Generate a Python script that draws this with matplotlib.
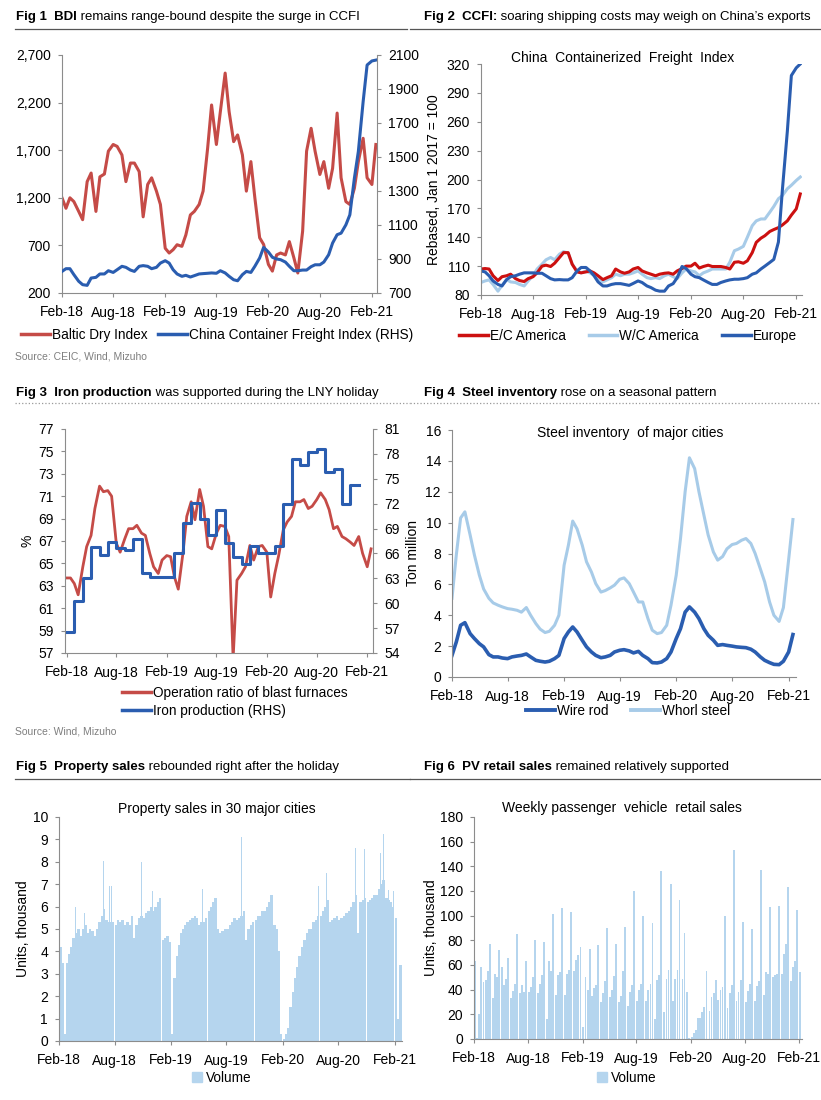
import matplotlib
matplotlib.use('Agg')
import matplotlib.pyplot as plt
import matplotlib.dates as mdates
from matplotlib.lines import Line2D
from matplotlib.patches import Patch
from datetime import datetime, timedelta

plt.rcParams['font.family'] = ['Liberation Sans', 'DejaVu Sans']

W, H = 821, 1100

# ---- data (semi-monthly unless noted) ----
bdi = [1200, 1090, 1200, 1160, 1057, 970, 1370, 1460, 1057, 1420, 1450, 1690, 1760, 1740, 1650, 1370, 1565, 1565, 1475, 1000, 1340, 1410,
       1270, 1130, 670, 620, 655, 707, 690, 810, 1020, 1057, 1130, 1270, 1720, 2175, 1760, 2105, 2510, 2105, 1790, 1860, 1650, 1270, 1580, 1200,
       780, 710, 500, 430, 600, 620, 600, 740, 570, 410, 850, 1690, 1930, 1690, 1445, 1580, 1300, 1510, 2090, 1410, 1160, 1130, 1300, 1580,
       1825, 1410, 1340, 1760]
ccfi = [827, 843, 843, 808, 769, 749, 745, 788, 792, 812, 812, 831, 821, 837, 857, 851, 835, 827, 857, 861, 857, 843,
        851, 876, 890, 876, 837, 812, 798, 804, 794, 802, 812, 814, 816, 818, 816, 831, 818, 798, 778, 772, 808, 827, 821, 857,
        906, 968, 941, 910, 900, 896, 882, 857, 831, 831, 835, 835, 855, 866, 866, 882, 925, 994, 1043, 1052, 1101, 1160, 1375, 1532,
        1826, 2041, 2065, 2070]

ec_america = [107, 107.5, 107, 100, 95, 99, 100, 101.6, 97, 95, 94, 97, 99, 103, 110, 111, 109.6, 113, 119, 124, 124, 112,
              104, 103, 104, 105, 103, 100, 96, 98, 100, 107, 104, 102.6, 104, 107, 108.6, 105, 103, 101.6, 100, 101.6, 102.6, 103, 101.6, 105,
              107.5, 110, 110, 113, 108, 109.6, 111, 109.6, 109.6, 109.6, 108.6, 107, 114, 114.5, 113, 115.5, 124, 134.7, 139, 141.6, 146, 148, 150, 152.8,
              157, 163, 169.5, 185]
wc_america = [93, 94.6, 95.7, 91, 84, 90, 96, 93.6, 93, 91, 89.4, 94.6, 100, 107, 112, 116.6, 119, 116.6, 122.5, 125, 123.5, 112,
              105, 103, 105, 103, 100.5, 98, 93.6, 95.7, 98, 101.6, 100, 101.6, 101.6, 103, 105, 101.6, 98, 97, 98, 97, 100, 101.6, 99, 97,
              103, 107, 105, 104, 100, 103, 105, 107, 107, 107, 107, 114, 126, 127.7, 130.5, 140, 152, 157, 159, 159, 166, 172, 180, 183.4,
              190.4, 194, 199, 202.6]
europe = [105, 104, 100, 94.6, 91, 89.4, 96, 99, 100, 101.6, 103, 103, 103, 102.6, 102.6, 100, 97, 95.7, 96, 95.7, 95.7, 98,
          105, 108.6, 108.6, 105, 100, 93.6, 89.4, 89.4, 91, 91.8, 91.8, 91, 90, 92, 94.6, 93, 89.4, 87.7, 85, 84, 84, 89.4, 91.8, 98,
          109.6, 107.5, 101.6, 99, 98, 95.7, 93, 91, 91, 93, 94.6, 95.7, 96.4, 96.4, 97, 98, 101.6, 103, 107, 110, 113.8, 117, 135, 190,
          250, 308, 316, 320]

blast_ratio = [63.7, 63.7, 63.2, 62.2, 64.7, 66.5, 67.5, 69.9, 71.9, 71.4, 71.5, 71.0, 66.8, 66.0, 67.2, 68.1, 68.1, 68.4, 67.7, 67.5, 65.9, 64.7,
               64.1, 65.3, 65.7, 65.6, 63.8, 62.7, 65.9, 69.2, 70.5, 68.9, 71.6, 70.1, 66.5, 66.3, 67.7, 68.4, 68.3, 67.4, 56.5, 63.5, 64.1, 64.7, 66.6, 65.3,
               66.5, 66.6, 66.0, 62.0, 64.1, 65.7, 68.0, 68.7, 69.2, 70.5, 70.5, 70.7, 69.9, 70.1, 70.7, 71.3, 70.7, 69.8, 68.1, 68.3, 67.4, 67.2, 66.9, 66.6,
               67.4, 65.9, 64.7, 66.3]
# monthly, Feb-18 .. Jan-21
iron_prod = [56.5, 60.3, 63.1, 66.8, 65.8, 67.4, 66.6, 66.4, 67.7, 63.6, 63.2,
             63.2, 63.2, 66.1, 69.7, 72.1, 70.1, 68.2, 71.2, 67.3, 65.6, 64.7, 66.9,
             66.0, 66.0, 66.9, 72.0, 77.4, 76.7, 78.2, 78.6, 75.8, 76.2, 71.9, 74.3,
             74.3]

whorl_steel = [5.1, 7.9, 10.3, 10.7, 9.2, 7.9, 6.6, 5.7, 5.1, 4.8, 4.65, 4.54, 4.43, 4.39, 4.32, 4.2, 4.5, 4.0, 3.46, 3.1, 2.88, 2.96,
               3.35, 4.0, 7.24, 8.54, 10.1, 9.6, 8.54, 7.46, 6.8, 6.05, 5.5, 5.6, 5.77, 5.95, 6.33, 6.42, 6.05, 5.5, 4.86, 4.86, 3.78, 3.03, 2.81, 2.88,
               3.35, 4.65, 6.6, 8.97, 12.0, 14.2, 13.5, 12.0, 10.5, 9.2, 8.1, 7.57, 7.8, 8.3, 8.58, 8.65, 8.86, 8.97, 8.65, 8.0, 7.0, 6.16, 4.86, 4.0,
               3.6, 4.5, 7.6, 10.2]
wire_rod = [1.4, 2.27, 3.35, 3.52, 2.81, 2.49, 2.16, 1.95, 1.45, 1.3, 1.3, 1.23, 1.19, 1.3, 1.36, 1.4, 1.49, 1.3, 1.08, 1.02, 0.97, 1.02,
            1.19, 1.4, 2.49, 2.92, 3.24, 2.92, 2.38, 1.95, 1.62, 1.4, 1.25, 1.3, 1.4, 1.62, 1.73, 1.77, 1.69, 1.56, 1.66, 1.4, 1.19, 0.93, 0.91, 0.97,
            1.19, 1.62, 2.49, 3.13, 4.2, 4.54, 4.2, 3.78, 3.13, 2.7, 2.38, 2.05, 2.1, 2.05, 2.0, 1.95, 1.92, 1.9, 1.8, 1.62, 1.3, 1.08, 0.93, 0.82,
            0.8, 1.02, 1.62, 2.75]

# property sales, 4 periods per month (thousand units), Feb-18 .. Feb-21
property_sales = [4.2, 3.5, 0.3, 3.5, 3.9, 4.2, 4.6, 4.8, 5.0, 4.7, 5.0, 5.2, 4.8, 5.0, 4.9, 4.7,
                  5.0, 5.3, 5.6, 5.9, 5.4, 5.3, 5.3, 5.3, 5.2, 5.4, 5.3, 5.4, 5.2, 5.3, 5.2, 5.6,
                  4.6, 5.2, 5.5, 5.6, 5.5, 5.7, 5.8, 6.0, 5.8, 6.0, 6.2, 6.4,
                  4.5, 4.6, 4.7, 4.4, 0.3, 2.8, 3.8, 4.3, 4.8, 5.0, 5.2, 5.3, 5.4, 5.5, 5.6, 5.5,
                  5.2, 5.3, 5.3, 5.5, 5.8, 6.0, 6.2, 6.4, 5.0, 4.8, 4.9, 5.0, 5.0, 5.2, 5.3, 5.5,
                  5.4, 5.5, 5.6, 5.8, 4.5, 5.0, 5.2, 5.3, 5.4, 5.6, 5.6, 5.8, 5.8, 6.0, 6.2, 6.5,
                  5.2, 5.0, 4.0, 0.3, 0.1, 0.3, 0.6, 1.5, 2.2, 2.8, 3.3, 3.8, 4.2, 4.5, 4.8, 5.0,
                  5.0, 5.3, 5.4, 5.6, 5.6, 5.8, 6.0, 6.3, 5.3, 5.4, 5.5, 5.6, 5.4, 5.5, 5.6, 5.7,
                  5.8, 6.0, 6.2, 6.5, 4.8, 6.2, 6.3, 6.4, 6.2, 6.3, 6.4, 6.5, 6.5, 6.8, 7.0, 7.2,
                  6.4, 6.3, 6.2, 6.0, 5.5, 1.0, 3.4]
# single-day spikes in property sales
spike_dates = ['2018-03-26', '2018-04-25', '2018-06-08', '2018-06-25', '2018-07-15', '2018-07-22', '2018-08-28',
               '2018-09-26', '2018-10-27', '2018-11-08', '2018-12-03', '2018-12-20', '2018-12-27', '2019-05-15',
               '2019-06-25', '2019-07-02', '2019-09-20', '2019-11-28', '2019-12-18', '2019-12-25', '2020-05-28',
               '2020-06-23', '2020-06-28', '2020-07-30', '2020-08-30', '2020-09-18', '2020-09-26', '2020-10-25',
               '2020-12-05', '2020-12-17', '2020-12-26', '2021-01-12', '2021-01-28']
spike_vals = [6.0, 5.7, 5.9, 8.05, 6.9, 6.9, 6.6, 7.45, 8.0, 6.5, 6.7, 8.8, 8.7, 6.8,
              7.8, 7.2, 9.1, 8.05, 6.7, 7.9, 6.9, 7.5, 10.0, 8.0, 6.5, 8.35, 8.6, 8.55,
              7.65, 8.4, 9.25, 6.75, 6.7]

# weekly passenger vehicle retail sales, 4 weeks per month, Feb-18 .. Feb-21
pv_sales = [63, 1, 20, 58, 46, 48, 55, 77, 33, 53, 50, 72, 58, 44, 49, 66, 33, 39, 45, 85,
            37, 44, 38, 63, 38, 42, 50, 80, 37, 45, 52, 79, 16, 63, 55, 101, 36, 52, 54, 106,
            36, 53, 56, 103, 55, 64, 68, 75, 10, 50, 40, 73, 35, 41, 44, 76, 30, 37, 47, 90,
            34, 40, 51, 77, 30, 35, 55, 91, 27, 38, 44, 120, 31, 40, 45, 100, 31, 40, 45, 94,
            16, 48, 52, 136, 22, 49, 56, 126, 31, 49, 56, 113, 49, 86, 38, 1, 2, 5, 7, 17,
            17, 22, 26, 55, 23, 34, 37, 48, 32, 40, 42, 100, 25, 37, 44, 153, 31, 38, 48, 95,
            30, 39, 45, 89, 31, 43, 47, 137, 36, 54, 53, 107, 50, 52, 53, 108, 53, 69, 77, 123,
            47, 58, 63, 105, 54]

# ---- dates ----
half_month = [datetime(y, m, d) for y in range(2018, 2022) for m in range(1, 13) for d in (1, 15)
              if datetime(2018, 2, 1) <= datetime(y, m, d) <= datetime(2021, 2, 15)]
month_start = [datetime(2018 + (1 + i) // 12, (1 + i) % 12 + 1, 1) for i in range(36)]


def periods(offsets, n):
    out = []
    i = 0
    while len(out) < n:
        ms = datetime(2018 + (1 + i) // 12, (1 + i) % 12 + 1, 1)
        for o in offsets:
            if len(out) < n:
                out.append(ms + timedelta(days=o))
        i += 1
    return out


prop_dates = periods([0, 7, 15, 22], len(property_sales))
pv_dates = periods([3, 10, 17, 24], len(pv_sales))
spike_days = [datetime.strptime(d, '%Y-%m-%d') for d in spike_dates]

# ---- figure ----
fig = plt.figure(figsize=(W / 100, H / 100), dpi=100)
renderer = fig.canvas.get_renderer()

SPINE = '#8c8c8c'
LEG = 9.8


def fr(l, t, r, b):
    return [l / W, 1 - b / H, (r - l) / W, (b - t) / H]


def style(ax, xlim, ylim, yticks):
    ax.set_xlim(xlim)
    ax.set_ylim(ylim)
    ax.set_yticks(yticks)
    for s in ('top', 'right'):
        ax.spines[s].set_visible(False)
    for s in ('left', 'bottom'):
        ax.spines[s].set_color(SPINE)
        ax.spines[s].set_linewidth(0.8)
    ax.tick_params(colors=SPINE, labelcolor='black', labelsize=10, length=3, width=0.8)
    ax.tick_params(axis='y', pad=5)
    ax.tick_params(axis='x', pad=6)
    ax.xaxis.set_major_locator(mdates.MonthLocator(bymonth=(2, 8)))
    ax.xaxis.set_major_formatter(mdates.DateFormatter('%b-%y'))


def style_right(ax, ylim, yticks):
    ax.set_ylim(ylim)
    ax.set_yticks(yticks)
    for s in ('top', 'left', 'bottom'):
        ax.spines[s].set_visible(False)
    ax.spines['right'].set_color(SPINE)
    ax.spines['right'].set_linewidth(0.8)
    ax.tick_params(colors=SPINE, labelcolor='black', labelsize=10, length=3, width=0.8, pad=5)


def title(x, y, bold, rest):
    t = fig.text(x / W, 1 - y / H, bold, fontsize=9.5, fontweight='bold', va='center')
    bb = t.get_window_extent(renderer=renderer)
    fig.text(bb.x1 / W, 1 - y / H, ' ' + rest, fontsize=9.5, va='center')


def rule(x0, x1, y, ls='-', color='#555555'):
    fig.add_artist(Line2D([x0 / W, x1 / W], [1 - y / H, 1 - y / H], transform=fig.transFigure,
                          color=color, lw=0.9, ls=ls))


def ftext(x, y, s, **kw):
    fig.text(x / W, 1 - y / H, s, **kw)


def legend(ax, handles, labels, x, y, **kw):
    opts = dict(loc='center', bbox_to_anchor=(x / W, 1 - y / H), bbox_transform=fig.transFigure,
                frameon=False, fontsize=LEG, handlelength=2.1, handletextpad=0.15, columnspacing=1.2)
    opts.update(kw)
    ax.legend(handles, labels, **opts)


RED = '#C54B47'
BLUE = '#2A5DB0'
LIGHT = '#A7CBE8'
BAR = '#B5D5EE'

# Fig 1
title(16, 17, 'Fig 1  BDI', 'remains range-bound despite the surge in CCFI')
rule(15, 407, 29)
ax1 = fig.add_axes(fr(62, 55, 377, 293))
ax1.plot(half_month, bdi, color=RED, lw=2.2)
style(ax1, (datetime(2018, 2, 1), datetime(2021, 2, 19)), (200, 2700), range(200, 2701, 500))
ax1.yaxis.set_major_formatter(matplotlib.ticker.StrMethodFormatter('{x:,.0f}'))
ax1b = ax1.twinx()
ax1b.plot(half_month, ccfi, color=BLUE, lw=2.2)
style_right(ax1b, (700, 2100), range(700, 2101, 200))
ax1b.set_xlim(datetime(2018, 2, 1), datetime(2021, 2, 19))
legend(ax1, [Line2D([], [], color=RED, lw=2.5), Line2D([], [], color=BLUE, lw=2.5)],
       ['Baltic Dry Index', 'China Container Freight Index (RHS)'], 217, 335, ncol=2, columnspacing=0.8)
ftext(15, 357, 'Source: CEIC, Wind, Mizuho', fontsize=7.5, color='#7f7f7f', va='center')

# Fig 2
title(424, 17, 'Fig 2  CCFI:', 'soaring shipping costs may weigh on China\u2019s exports')
rule(410, 821, 29)
ax2 = fig.add_axes(fr(481, 64, 802, 295))
ax2.plot(half_month, wc_america, color=LIGHT, lw=2.2)
ax2.plot(half_month, ec_america, color='#CC1010', lw=2.2)
ax2.plot(half_month, europe, color=BLUE, lw=2.2)
style(ax2, (datetime(2018, 2, 1), datetime(2021, 2, 21)), (80, 320), range(80, 321, 30))
ax2.set_ylabel('Rebased, Jan 1 2017 = 100', fontsize=10, labelpad=4)
ftext(623, 58, 'China  Containerized  Freight  Index', fontsize=10, ha='center', va='center')
legend(ax2, [Line2D([], [], color='#CC1010', lw=2.5), Line2D([], [], color=LIGHT, lw=2.5),
             Line2D([], [], color=BLUE, lw=2.5)],
       ['E/C America', 'W/C America', 'Europe'], 628, 336, ncol=3, columnspacing=1.7)

# Fig 3
title(16, 393, 'Fig 3  Iron production', 'was supported during the LNY holiday')
rule(15, 410, 403, ls=':', color='#999999')
ax3 = fig.add_axes(fr(65, 429, 373, 653))
ax3.plot(half_month, blast_ratio, color=RED, lw=2.0)
style(ax3, (datetime(2018, 1, 26), datetime(2021, 2, 22)), (57, 77), range(57, 78, 2))
ax3.set_ylabel('%', fontsize=10, labelpad=3)
ax3b = ax3.twinx()
ax3b.step(month_start, iron_prod, where='post', color=BLUE, lw=2.2)
style_right(ax3b, (54, 81), range(54, 82, 3))
ax3b.set_xlim(datetime(2018, 1, 26), datetime(2021, 2, 22))
legend(ax3, [Line2D([], [], color=RED, lw=2.5), Line2D([], [], color=BLUE, lw=2.5)],
       ['Operation ratio of blast furnaces', 'Iron production (RHS)'], 110, 702,
       loc='center left', labelspacing=0.3)
ftext(15, 732, 'Source: Wind, Mizuho', fontsize=7.5, color='#7f7f7f', va='center')

# Fig 4
title(424, 393, 'Fig 4  Steel inventory', 'rose on a seasonal pattern')
rule(410, 821, 403, ls=':', color='#999999')
ax4 = fig.add_axes(fr(452, 430, 796, 677))
ax4.plot(half_month, whorl_steel, color=LIGHT, lw=2.2)
ax4.plot(half_month, wire_rod, color=BLUE, lw=2.6)
style(ax4, (datetime(2018, 2, 1), datetime(2021, 2, 25)), (0, 16), range(0, 17, 2))
ax4.set_ylabel('Ton million', fontsize=10)
ax4.yaxis.set_label_coords((420 - 452) / 344, 0.5)
ftext(630, 433, 'Steel inventory  of major cities', fontsize=10, ha='center', va='center')
legend(ax4, [Line2D([], [], color=BLUE, lw=2.8), Line2D([], [], color=LIGHT, lw=2.8)],
       ['Wire rod', 'Whorl steel'], 628, 711, ncol=2, columnspacing=1.7)

# Fig 5
title(16, 767, 'Fig 5  Property sales', 'rebounded right after the holiday')
rule(15, 410, 779)
ax5 = fig.add_axes(fr(59, 817, 402, 1041))
ax5.bar(prop_dates, property_sales, width=8, align='edge', color=BAR, linewidth=0)
ax5.bar(spike_days, spike_vals, width=1.6, color=BAR, linewidth=0)
style(ax5, (datetime(2018, 1, 31), datetime(2021, 2, 25)), (0, 10), range(0, 11, 1))
ax5.set_ylabel('Units, thousand', fontsize=10, labelpad=2)
ftext(217, 809, 'Property sales in 30 major cities', fontsize=10, ha='center', va='center')
legend(ax5, [Patch(color=BAR)], ['Volume'], 222, 1078, handlelength=0.7, handleheight=0.7,
       handletextpad=0.3)

# Fig 6
title(424, 767, 'Fig 6  PV retail sales', 'remained relatively supported')
rule(410, 821, 779)
ax6 = fig.add_axes(fr(474, 817, 802, 1039))
ax6.bar(pv_dates, pv_sales, width=6.3, color=BAR, linewidth=0)
style(ax6, (datetime(2018, 1, 31), datetime(2021, 2, 10)), (0, 180), range(0, 181, 20))
ax6.set_ylabel('Units, thousand', fontsize=10, labelpad=1)
ftext(622, 808, 'Weekly passenger  vehicle  retail sales', fontsize=10, ha='center', va='center')
legend(ax6, [Patch(color=BAR)], ['Volume'], 627, 1078, handlelength=0.7, handleheight=0.7,
       handletextpad=0.3)

fig.savefig('out.png', dpi=100)
